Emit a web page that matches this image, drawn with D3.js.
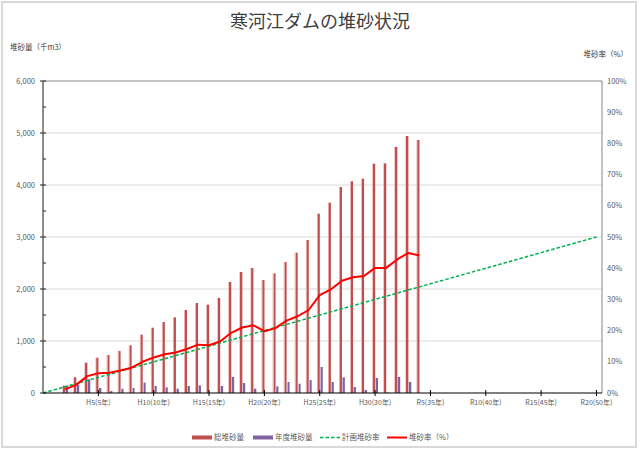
<!DOCTYPE html>
<html><head><meta charset="utf-8">
<script src="https://cdn.jsdelivr.net/npm/d3@7"></script>
<style>body{margin:0;background:#fff}svg{display:block}text{font-family:"Noto Sans CJK JP","Noto Sans",sans-serif}</style>
</head><body><svg id="c" width="640" height="452"></svg>
<script>
// ---- data ----
const barYears = [2,3,4,5,6,7,8,9,10,11,12,13,14,15,16,17,18,19,20,21,22,23,24,25,26,27,28,29,30,31,32,33,34];
const totalSediment = [140,302,583,679,731,808,917,1122,1256,1365,1455,1596,1731,1699,1827,2135,2327,2404,2173,2301,2519,2699,2942,3449,3660,3962,4071,4122,4410,4417,4731,4942,4865];
const annualSediment = [140,154,263,96,38,83,96,199,135,109,83,135,147,0,135,308,192,83,0,128,212,179,250,500,212,301,115,58,288,10,308,212,0];
const sedimentRate = [1.2,2.6,5.4,6.3,6.5,7.2,8.1,10.0,11.4,12.4,13.0,14.1,15.5,15.3,16.5,19.3,21.0,21.7,19.8,20.8,23.2,24.6,26.6,31.4,33.2,36.0,37.1,37.5,40.1,40.1,42.8,44.9,44.1];
const planYears = [0,1,2,3,4,5,6,7,8,9,10,11,12,13,14,15,16,17,18,19,20,21,22,23,24,25,26,27,28,29,30,31,32,33,34,35,36,37,38,39,40,41,42,43,44,45,46,47,48,49,50];
const planRate = [0,1,2,3,4,5,6,7,8,9,10,11,12,13,14,15,16,17,18,19,20,21,22,23,24,25,26,27,28,29,30,31,32,33,34,35,36,37,38,39,40,41,42,43,44,45,46,47,48,49,50];
const tickYears = [5,10,15,20,25,30,35,40,45,50];
const tickLabels = ["H5(5年)","H10(10年)","H15(15年)","H20(20年)","H25(25年)","H30(30年)","R5(35年)","R10(40年)","R15(45年)","R20(50年)"];
const leftTicks = [0,1000,2000,3000,4000,5000,6000];
const rightTicks = [0,10,20,30,40,50,60,70,80,90,100];
const title = "寒河江ダムの堆砂状況";
const seriesNames = ["総堆砂量","年度堆砂量","計画堆砂率","堆砂率（%）"];

const svg = d3.select("#c");
const L = 43, R = 602, T = 81, B = 393;
const x = d3.scaleLinear().domain([0, 50.5]).range([L, R]);
const yL = d3.scaleLinear().domain([0, 6000]).range([B, T]);
const yR = d3.scaleLinear().domain([0, 100]).range([B, T]);
const sub = d3.scaleBand().domain(["total","annual"]).range([-2.8, 3.0]).padding(0);

// frame
svg.append("rect").attr("x",2).attr("y",2).attr("width",634).attr("height",445)
  .attr("fill","#fff").attr("stroke","#d9d9d9").attr("stroke-width",2);

const defs = svg.append("defs");
function grad(id, light, dark){
  const g = defs.append("linearGradient").attr("id",id).attr("x1","0").attr("x2","1").attr("y1","0").attr("y2","0");
  g.append("stop").attr("offset","0").attr("stop-color",light);
  g.append("stop").attr("offset","0.3").attr("stop-color",light);
  g.append("stop").attr("offset","0.35").attr("stop-color",dark);
  g.append("stop").attr("offset","1").attr("stop-color",dark);
}
grad("gr","#e6a9a7","#c0504d");
grad("gp","#c3b5d8","#7f63a1");

// gridlines
svg.append("g").selectAll("line").data(leftTicks.filter(d=>d>0&&d<6000)).join("line")
  .attr("x1",L).attr("x2",R).attr("y1",d=>yL(d)).attr("y2",d=>yL(d))
  .attr("stroke","#d9d9d9").attr("stroke-width",1);

// plot border top/right
svg.append("line").attr("x1",L).attr("x2",R).attr("y1",T).attr("y2",T).attr("stroke","#868686").attr("stroke-width",1);
svg.append("line").attr("x1",R).attr("x2",R).attr("y1",T).attr("y2",B).attr("stroke","#868686").attr("stroke-width",1);

// bars
svg.append("g").selectAll("rect").data(barYears).join("rect")
  .attr("x",(d)=>x(d)+sub("total")).attr("width",sub.bandwidth())
  .attr("y",(d,i)=>yL(totalSediment[i])).attr("height",(d,i)=>B-yL(totalSediment[i]))
  .attr("fill","url(#gr)");
svg.append("g").selectAll("rect").data(barYears).join("rect")
  .attr("x",(d)=>x(d)+sub("annual")).attr("width",sub.bandwidth())
  .attr("y",(d,i)=>yL(annualSediment[i])).attr("height",(d,i)=>B-yL(annualSediment[i]))
  .attr("fill","url(#gp)");

// left axis
const la = svg.append("g");
la.append("line").attr("x1",L).attr("x2",L).attr("y1",T).attr("y2",B).attr("stroke","#808080").attr("stroke-width",1.8);
const minor = d3.range(0,6001,500).filter(d=>d%1000!==0);
la.selectAll("line.mn").data(minor).join("line").attr("class","mn")
  .attr("x1",L).attr("x2",L+3).attr("y1",d=>yL(d)).attr("y2",d=>yL(d)).attr("stroke","#222");
la.selectAll("line.mj").data(leftTicks).join("line").attr("class","mj")
  .attr("x1",L-3).attr("x2",L+3).attr("y1",d=>yL(d)).attr("y2",d=>yL(d)).attr("stroke","#222");
la.selectAll("text").data(leftTicks).join("text")
  .attr("x",35).attr("y",d=>yL(d)+2.5).attr("text-anchor","end")
  .attr("font-size",7.5).attr("fill","#595959").text(d=>d3.format(",")(d));

// right axis labels
svg.append("g").selectAll("text").data(rightTicks).join("text")
  .attr("x",607).attr("y",d=>yR(d)+2.5).attr("text-anchor","start")
  .attr("font-size",7.5).attr("fill","#595959").text(d=>d+"%");

// lines
svg.append("path").datum(planYears)
  .attr("d", d3.line().x(d=>x(d)).y((d,i)=>yR(planRate[i])))
  .attr("fill","none").attr("stroke","#00b050").attr("stroke-width",1.5).attr("stroke-dasharray","3.5,2");
svg.append("path").datum(barYears)
  .attr("d", d3.line().x(d=>x(d)).y((d,i)=>yR(sedimentRate[i])))
  .attr("fill","none").attr("stroke","#ff0000").attr("stroke-width",2).attr("stroke-linejoin","round");

// bottom axis
svg.append("line").attr("x1",L).attr("x2",R).attr("y1",B).attr("y2",B).attr("stroke","#000").attr("stroke-width",1.2);
svg.append("g").selectAll("line").data(tickYears).join("line")
  .attr("x1",d=>x(d)).attr("x2",d=>x(d)).attr("y1",B-3).attr("y2",B+3).attr("stroke","#000");
svg.append("g").selectAll("text").data(tickYears).join("text")
  .attr("x",d=>x(d)).attr("y",405).attr("text-anchor","middle")
  .attr("font-size",7).attr("fill","#595959").text((d,i)=>tickLabels[i]);

// titles
svg.append("text").attr("x",320).attr("y",28).attr("text-anchor","middle")
  .attr("font-size",18).attr("fill","#404040").text(title);
svg.append("text").attr("x",10).attr("y",50).attr("font-size",7.5).attr("fill","#404040").text("堆砂量（千m3）");
svg.append("text").attr("x",628).attr("y",57).attr("text-anchor","end").attr("font-size",7.5).attr("fill","#404040").text("堆砂率（%）");

// legend
const lg = svg.append("g");
const items = [
  {x:192, name:seriesNames[0], type:"bar", color:"#c0504d"},
  {x:253, name:seriesNames[1], type:"bar", color:"#8064a2"},
  {x:320, name:seriesNames[2], type:"dash", color:"#00b050"},
  {x:387, name:seriesNames[3], type:"line", color:"#ff0000"}
];
items.forEach(it=>{
  const ly = 437.5;
  if(it.type==="bar"){
    lg.append("rect").attr("x",it.x).attr("y",ly-2).attr("width",20).attr("height",4).attr("fill",it.color);
  } else {
    lg.append("line").attr("x1",it.x).attr("x2",it.x+20).attr("y1",ly).attr("y2",ly)
      .attr("stroke",it.color).attr("stroke-width",it.type==="dash"?1.5:2)
      .attr("stroke-dasharray",it.type==="dash"?"3.5,2":null);
  }
  lg.append("text").attr("x",it.x+22).attr("y",ly+2.7).attr("font-size",7.5).attr("fill","#595959").text(it.name);
});
</script></body></html>
